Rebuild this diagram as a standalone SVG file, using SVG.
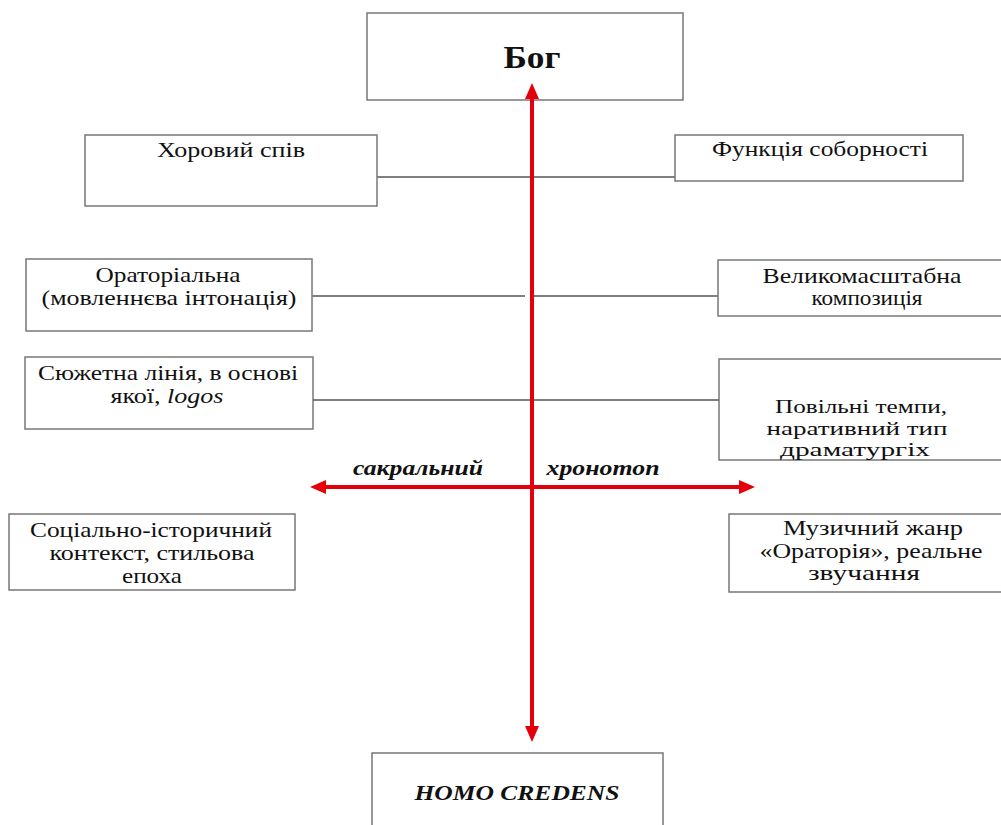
<svg xmlns="http://www.w3.org/2000/svg" width="1001" height="825" viewBox="0 0 1001 825">
<style>
.box{fill:#fff;stroke:#777;stroke-width:1.5}
.t{font-family:"Liberation Serif","Times New Roman",serif;font-size:21px;fill:#111;text-anchor:middle}
.s{font-size:19px}
.b{font-weight:bold}
.i{font-style:italic}
.con{stroke:#555;stroke-width:1.5;fill:none}
.red{stroke:#e3000b;stroke-width:4;fill:none}
</style>
<defs>
<marker id="ah" viewBox="0 0 16 14" refX="2" refY="7" markerWidth="16" markerHeight="14" markerUnits="userSpaceOnUse" orient="auto-start-reverse">
<path d="M0,0 L16,7 L0,14 z" fill="#e3000b"/>
</marker>
</defs>
<rect width="1001" height="825" fill="#fff"/>
<g id="connectors">
<line class="con" x1="377" y1="177" x2="675" y2="177"/>
<line class="con" x1="312" y1="296" x2="525" y2="296"/>
<line class="con" x1="534" y1="296" x2="718" y2="296"/>
<line class="con" x1="313" y1="400" x2="722" y2="400"/>
</g>
<g id="bog"><rect class="box" x="367" y="13" width="316" height="87"/>
<text class="t b" x="532" y="68" textLength="57" lengthAdjust="spacingAndGlyphs" style="font-size:32px">Бог</text></g>
<g id="khorovyi"><rect class="box" x="85" y="135" width="292" height="71"/>
<text class="t" x="231" y="157" textLength="148" lengthAdjust="spacingAndGlyphs">Хоровий спів</text></g>
<g id="funktsiia"><rect class="box" x="675" y="135" width="288" height="46"/>
<text class="t" x="820" y="156" textLength="216" lengthAdjust="spacingAndGlyphs">Функція соборності</text></g>
<g id="oratorialna"><rect class="box" x="26" y="259" width="286" height="72"/>
<text class="t" x="168" y="282" textLength="145" lengthAdjust="spacingAndGlyphs">Ораторіальна</text>
<text class="t" x="169" y="305" textLength="255" lengthAdjust="spacingAndGlyphs">(мовленнєва інтонація)</text></g>
<g id="velykomasshtabna"><rect class="box" x="718" y="260" width="300" height="56"/>
<text class="t" x="862" y="283" textLength="199" lengthAdjust="spacingAndGlyphs">Великомасштабна</text>
<text class="t" x="867" y="305" textLength="111" lengthAdjust="spacingAndGlyphs">композиція</text></g>
<g id="siuzhetna"><rect class="box" x="25" y="357" width="288" height="72"/>
<text class="t" x="168" y="380" textLength="260" lengthAdjust="spacingAndGlyphs">Сюжетна лінія, в основі</text>
<text class="t" x="167" y="403" textLength="113" lengthAdjust="spacingAndGlyphs">якої, <tspan class="i">logos</tspan></text></g>
<g id="povilni"><rect class="box" x="719" y="359" width="300" height="101"/>
<text class="t s" x="861" y="413" textLength="172" lengthAdjust="spacingAndGlyphs">Повільні темпи,</text>
<text class="t s" x="857" y="435" textLength="181" lengthAdjust="spacingAndGlyphs">наративний тип</text>
<text class="t s" x="855" y="456" textLength="150" lengthAdjust="spacingAndGlyphs">драматургіх</text></g>
<g id="sotsialno"><rect class="box" x="9" y="514" width="286" height="76"/>
<text class="t" x="151" y="537" textLength="242" lengthAdjust="spacingAndGlyphs">Соціально-історичний</text>
<text class="t" x="152" y="560" textLength="205" lengthAdjust="spacingAndGlyphs">контекст, стильова</text>
<text class="t" x="152" y="583" textLength="60" lengthAdjust="spacingAndGlyphs">епоха</text></g>
<g id="muzychnyi"><rect class="box" x="729" y="514" width="290" height="78"/>
<text class="t" x="873" y="535" textLength="180" lengthAdjust="spacingAndGlyphs">Музичний жанр</text>
<text class="t" x="871" y="558" textLength="223" lengthAdjust="spacingAndGlyphs">«Ораторія», реальне</text>
<text class="t" x="864" y="580" textLength="112" lengthAdjust="spacingAndGlyphs">звучання</text></g>
<g id="homo"><rect class="box" x="372" y="753" width="291" height="80"/>
<text class="t b i" x="517" y="800" textLength="205" lengthAdjust="spacingAndGlyphs">HOMO CREDENS</text></g>
<g id="axes">
<line class="red" x1="532" y1="97" x2="532" y2="728" marker-start="url(#ah)" marker-end="url(#ah)"/>
<line class="red" x1="324" y1="487" x2="741" y2="487" marker-start="url(#ah)" marker-end="url(#ah)"/>
<text class="t b i" x="418" y="475" textLength="130" lengthAdjust="spacingAndGlyphs">сакральний</text>
<text class="t b i" x="603" y="475" textLength="113" lengthAdjust="spacingAndGlyphs">хронотоп</text>
</g>
</svg>
